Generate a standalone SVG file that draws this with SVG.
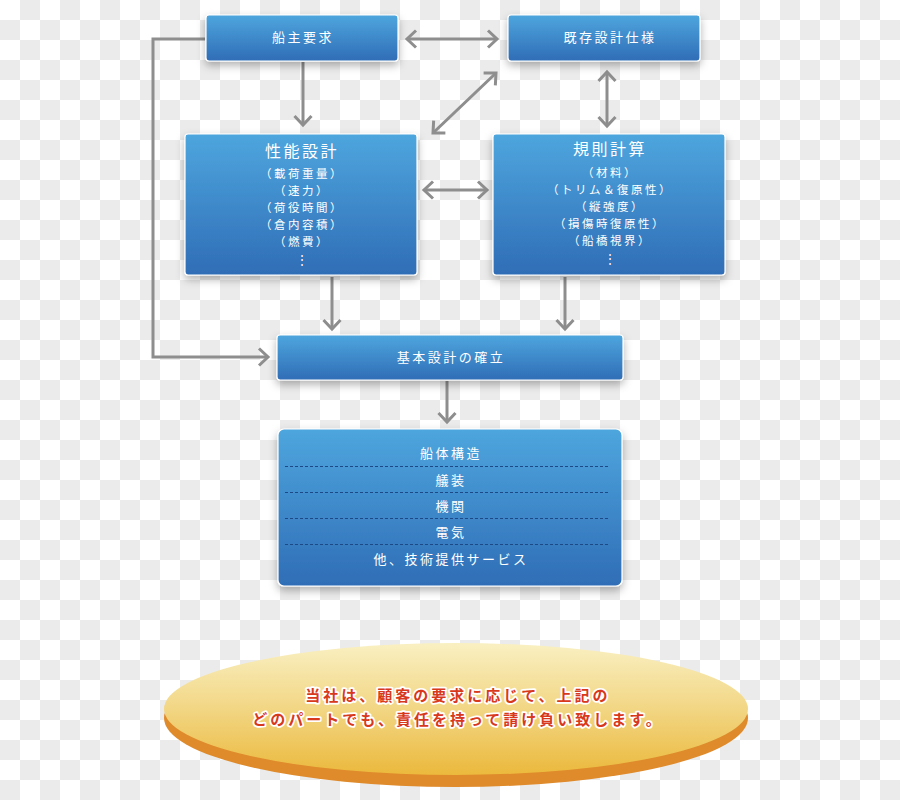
<svg xmlns="http://www.w3.org/2000/svg" width="900" height="800" viewBox="0 0 900 800">
<defs>
<pattern id="checker" width="40" height="40" patternUnits="userSpaceOnUse">
<rect width="40" height="40" fill="#ffffff"/>
<rect x="20" y="0" width="20" height="20" fill="#ebebeb"/>
<rect x="0" y="20" width="20" height="20" fill="#ebebeb"/>
</pattern>
<linearGradient id="boxGrad" x1="0" y1="0" x2="0" y2="1">
<stop offset="0" stop-color="#4ea6de"/>
<stop offset="1" stop-color="#2f6db6"/>
</linearGradient>
<linearGradient id="ovalGrad" x1="0" y1="0" x2="0" y2="1">
<stop offset="0" stop-color="#f9f0c2"/>
<stop offset="0.5" stop-color="#f2d684"/>
<stop offset="1" stop-color="#ebb93c"/>
</linearGradient>
<filter id="shadow" x="-10%" y="-10%" width="120%" height="140%">
<feDropShadow dx="0" dy="4" stdDeviation="4" flood-color="#000" flood-opacity="0.3"/>
</filter>
<marker id="chev" markerUnits="userSpaceOnUse" markerWidth="14" markerHeight="20" viewBox="0 0 14 20" refX="11" refY="10" orient="auto-start-reverse">
<path d="M2,1.5 L11,10 L2,18.5" fill="none" stroke="#8e8e8e" stroke-width="3"/>
</marker>
<style>
.box{fill:url(#boxGrad);stroke:#ffffff;stroke-width:1.2;filter:url(#shadow)}
.t{fill:#ffffff;font-family:"Noto Sans CJK JP","Noto Sans",sans-serif;font-size:13px;letter-spacing:2.5px;text-anchor:middle}
.title{font-size:16px;letter-spacing:2.5px}
.sub{font-size:11.5px;letter-spacing:2.5px}
.conn{fill:none;stroke:#8e8e8e;stroke-width:3}
.dash{stroke:#1d4a86;stroke-width:1;stroke-dasharray:3 2}
.msg{fill:#d8391c;stroke:#ffffff;stroke-width:3.5;paint-order:stroke;stroke-linejoin:round;font-family:"Noto Sans CJK JP","Noto Sans",sans-serif;font-size:15px;font-weight:bold;letter-spacing:3px;text-anchor:middle}
</style>
</defs>
<rect width="900" height="800" fill="url(#checker)"/>

<g id="connectors">
<line class="conn" x1="407" y1="39" x2="497" y2="39" marker-start="url(#chev)" marker-end="url(#chev)"/>
<line class="conn" x1="303" y1="62" x2="303" y2="125" marker-end="url(#chev)"/>
<line class="conn" x1="496" y1="73" x2="433" y2="133" marker-start="url(#chev)" marker-end="url(#chev)"/>
<line class="conn" x1="607" y1="72" x2="607" y2="126" marker-start="url(#chev)" marker-end="url(#chev)"/>
<line class="conn" x1="424" y1="190" x2="487" y2="190" marker-start="url(#chev)" marker-end="url(#chev)"/>
<polyline class="conn" points="205,39 153,39 153,357 268,357" marker-end="url(#chev)"/>
<line class="conn" x1="332" y1="277" x2="332" y2="329" marker-end="url(#chev)"/>
<line class="conn" x1="565" y1="277" x2="565" y2="329" marker-end="url(#chev)"/>
<line class="conn" x1="447" y1="381" x2="447" y2="422" marker-end="url(#chev)"/>
</g>

<g id="owner">
<rect class="box" x="206" y="15" width="192" height="46" rx="3"/>
<text class="t" x="303" y="42">船主要求</text>
</g>

<g id="existing">
<rect class="box" x="508" y="15" width="192" height="46" rx="3"/>
<text class="t" x="610" y="42">既存設計仕様</text>
</g>

<g id="performance">
<rect class="box" x="185" y="134" width="232" height="141" rx="3"/>
<text class="t title" x="302" y="157">性能設計</text>
<text class="t sub" x="302" y="178">（載荷重量）</text>
<text class="t sub" x="302" y="195">（速力）</text>
<text class="t sub" x="302" y="212">（荷役時間）</text>
<text class="t sub" x="302" y="229">（倉内容積）</text>
<text class="t sub" x="302" y="246">（燃費）</text>
<text class="t sub" x="302" y="264" style="letter-spacing:0">⋮</text>
</g>

<g id="rules">
<rect class="box" x="493" y="134" width="232" height="141" rx="3"/>
<text class="t title" x="610" y="155">規則計算</text>
<text class="t sub" x="610" y="177">（材料）</text>
<text class="t sub" x="610" y="194">（トリム＆復原性）</text>
<text class="t sub" x="610" y="211">（縦強度）</text>
<text class="t sub" x="610" y="228">（損傷時復原性）</text>
<text class="t sub" x="610" y="245">（船橋視界）</text>
<text class="t sub" x="610" y="263" style="letter-spacing:0">⋮</text>
</g>

<g id="basic">
<rect class="box" x="277" y="335" width="346" height="45" rx="3"/>
<text class="t" x="451" y="362">基本設計の確立</text>
</g>

<g id="scope">
<rect class="box" x="278" y="429" width="344" height="157" rx="6"/>
<text class="t" x="451" y="458">船体構造</text>
<line class="dash" x1="285" y1="466.5" x2="608" y2="466.5"/>
<text class="t" x="451" y="485">艤装</text>
<line class="dash" x1="285" y1="492.5" x2="608" y2="492.5"/>
<text class="t" x="451" y="511">機関</text>
<line class="dash" x1="285" y1="518.5" x2="608" y2="518.5"/>
<text class="t" x="451" y="537">電気</text>
<line class="dash" x1="285" y1="544.5" x2="608" y2="544.5"/>
<text class="t" x="451" y="564">他、技術提供サービス</text>
</g>

<g id="message">
<ellipse cx="456" cy="718" rx="292" ry="69" fill="#df8a2b"/>
<ellipse cx="456" cy="709" rx="292" ry="66" fill="url(#ovalGrad)"/>
<text class="msg" x="458" y="701">当社は、顧客の要求に応じて、上記の</text>
<text class="msg" x="458" y="725">どのパートでも、責任を持って請け負い致します。</text>
</g>
</svg>
